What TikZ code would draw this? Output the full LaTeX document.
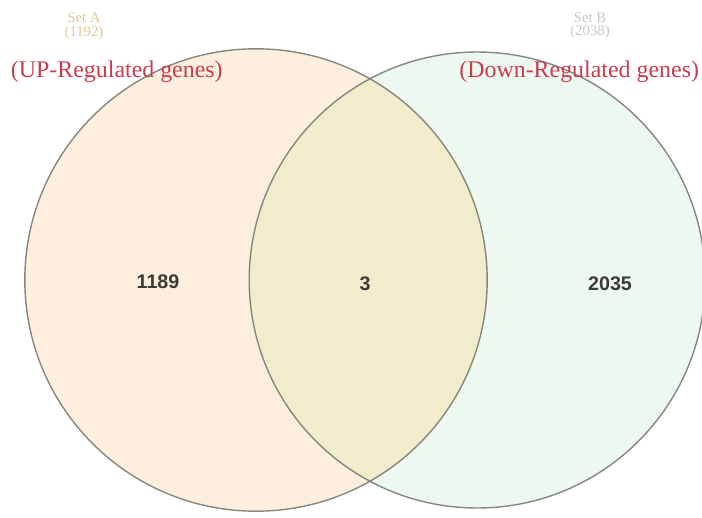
\documentclass[tikz,border=0pt]{standalone}
\usepackage{fontspec}
\setmainfont{Liberation Serif}
\setsansfont{Liberation Sans}

\begin{document}
\begin{tikzpicture}
  % Fix the page to the reference size (702 x 517 px, 1px = 0.025cm)
  \useasboundingbox (0,0) rectangle (17.55,-12.925);
  \clip (0,0) rectangle (17.55,-12.925);

  % ==========================================
  % 1. COLORS & SETUP
  % ==========================================
  \definecolor{setAFill}{RGB}{254, 238, 222}   % peach, up-regulated
  \definecolor{setBFill}{RGB}{237, 249, 240}   % mint, down-regulated
  \definecolor{bothFill}{RGB}{240, 236, 204}   % overlap
  \definecolor{ringGrey}{RGB}{135, 135, 128}
  \definecolor{labelRed}{RGB}{200, 60, 80}
  \definecolor{setATag}{RGB}{228, 200, 150}
  \definecolor{setBTag}{RGB}{200, 200, 198}
  \definecolor{countGrey}{RGB}{60, 60, 55}

  \def\RA{5.78} % radius of set A
  \def\RB{5.70} % radius of set B
  \coordinate (CA) at (6.40, -7.00);
  \coordinate (CB) at (11.93, -7.00);

  \tikzset{
    tagtext/.style={font=\fontsize{10.5}{12}\selectfont, inner sep=0pt},
    grouptext/.style={text=labelRed, font=\fontsize{17}{19}\selectfont, inner sep=1pt},
    counttext/.style={text=countGrey, font=\sffamily\bfseries\fontsize{14}{16}\selectfont}
  }

  % ==========================================
  % 2. SET REGIONS
  % ==========================================
  \fill[setAFill] (CA) circle (\RA);
  \fill[setBFill] (CB) circle (\RB);
  \begin{scope}
    \clip (CA) circle (\RA);
    \fill[bothFill] (CB) circle (\RB);
  \end{scope}

  % outlines
  \draw[ringGrey, line width=1pt] (CA) circle (\RA);
  \draw[ringGrey, line width=1pt] (CB) circle (\RB);

  % ==========================================
  % 3. HEADINGS
  % ==========================================
  \node[tagtext, text=setATag] (tagA) at (2.10, -0.45) {Set A};
  \node[tagtext, text=setATag] (sizeA) at (2.10, -0.83) {(1192)};
  \node[grouptext] (upA) at (2.92, -1.80) {(UP-Regulated genes)};

  \node[tagtext, text=setBTag] (tagB) at (14.75, -0.43) {Set B};
  \node[tagtext, text=setBTag] (sizeB) at (14.75, -0.80) {(2038)};
  \node[grouptext] (downB) at (14.48, -1.80) {(Down-Regulated genes)};

  % ==========================================
  % 4. COUNTS
  % ==========================================
  \node[counttext] (onlyA) at (3.95, -7.05) {1189};
  \node[counttext] (inBoth) at (9.13, -7.10) {3};
  \node[counttext] (onlyB) at (15.25, -7.10) {2035};

\end{tikzpicture}
\end{document}
